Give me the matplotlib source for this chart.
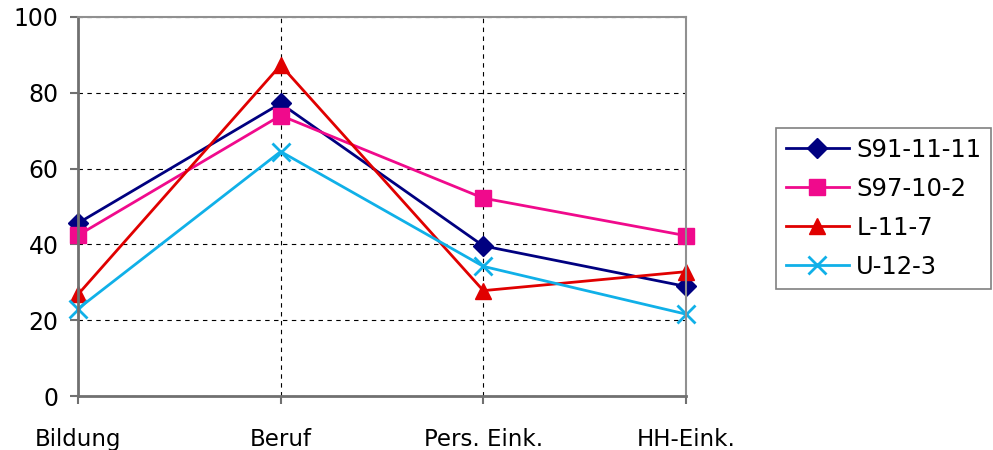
import matplotlib
matplotlib.use("Agg")
import matplotlib.pyplot as plt

plt.rcParams['font.family'] = ['DejaVu Sans']

categories = ["Bildung", "Beruf", "Pers. Eink.", "HH-Eink."]
series_names = ["S91-11-11", "S97-10-2", "L-11-7", "U-12-3"]
s91_11_11 = [45.6, 77.2, 39.6, 28.9]
s97_10_2 = [42.4, 74.0, 52.2, 42.3]
l_11_7 = [26.8, 87.3, 27.8, 32.8]
u_12_3 = [23.0, 64.5, 34.2, 21.6]
y_ticks = [0, 20, 40, 60, 80, 100]

styles = [
    dict(color="#000080", marker="D", markersize=10),
    dict(color="#F00A8C", marker="s", markersize=11),
    dict(color="#E00000", marker="^", markersize=12),
    dict(color="#10B0E8", marker="x", markersize=13, markeredgewidth=2),
]

fig = plt.figure(figsize=(9.93, 4.5), dpi=100)
ax = fig.add_axes([78 / 993, 54 / 450, (686 - 78) / 993, (396 - 17) / 450])

x = list(range(len(categories)))
for name, values, st in zip(series_names, [s91_11_11, s97_10_2, l_11_7, u_12_3], styles):
    ax.plot(x, values, linewidth=2, label=name, clip_on=False, **st)

ax.set_xlim(0, len(categories) - 1)
ax.set_ylim(0, 100)
ax.set_yticks(y_ticks)
ax.set_xticks(x)
ax.set_xticklabels(categories)

ax.grid(True, color="black", linestyle=(0, (4, 4)), linewidth=0.8)
ax.set_axisbelow(True)

for side in ["left", "bottom"]:
    ax.spines[side].set_color("#707070")
    ax.spines[side].set_linewidth(2)
for side in ["top", "right"]:
    ax.spines[side].set_color("#909090")
    ax.spines[side].set_linewidth(1.5)

ax.tick_params(axis="y", direction="out", length=6, width=1.5, color="#707070",
               labelsize=17, pad=8)
ax.tick_params(axis="x", direction="out", length=6, width=1.5, color="#707070",
               labelsize=16.5, pad=17)

leg = ax.legend(loc="upper left", bbox_to_anchor=(776 / 993, 1 - 128 / 450), bbox_transform=fig.transFigure,
                frameon=True, fancybox=False, fontsize=17.5, handlelength=2.6,
                labelspacing=0.62, borderpad=0.4, handletextpad=0.3, borderaxespad=0)
leg.get_frame().set_edgecolor("#606060")
leg.get_frame().set_linewidth(1.2)

fig.savefig("out.png", dpi=100)
